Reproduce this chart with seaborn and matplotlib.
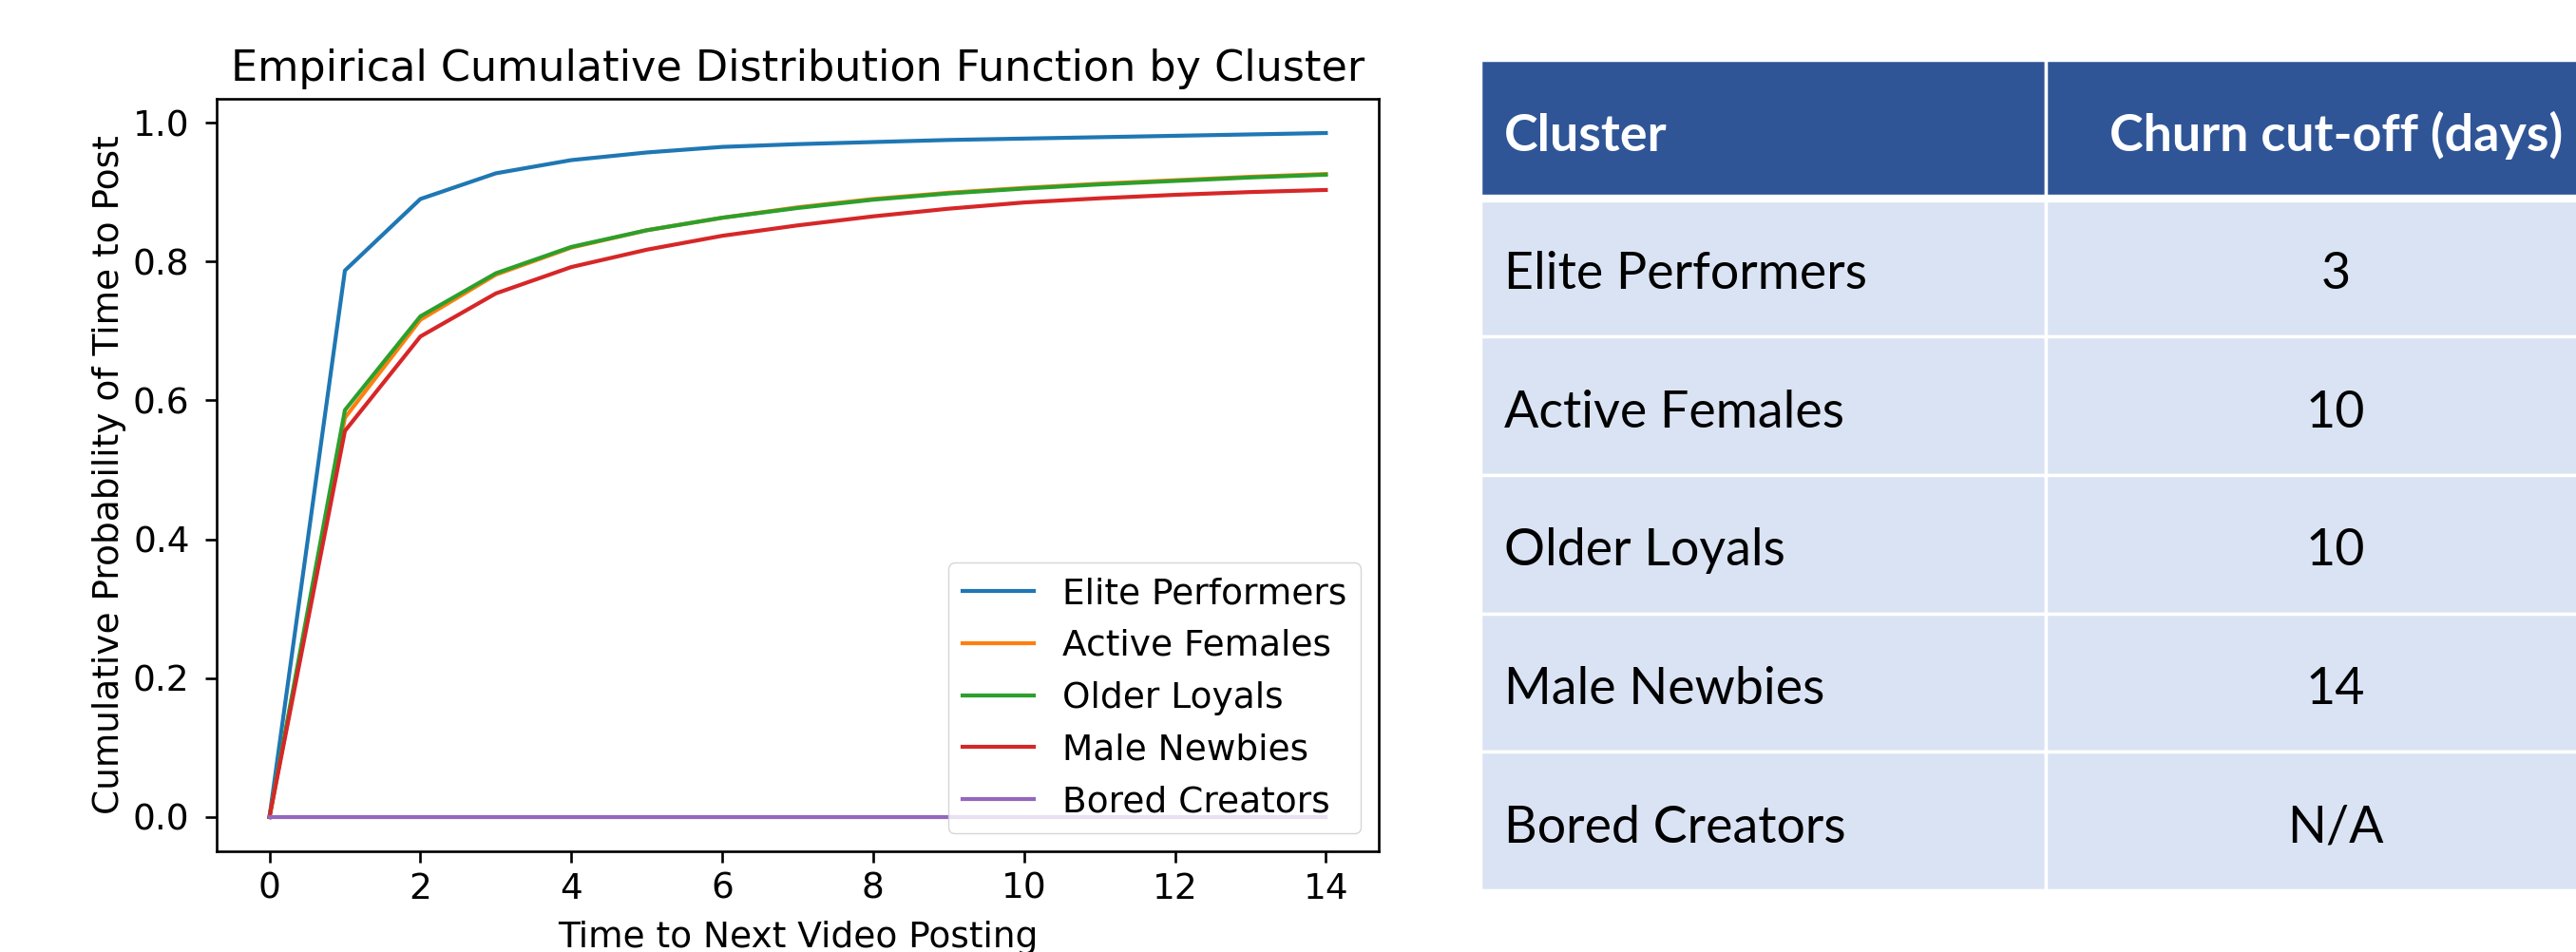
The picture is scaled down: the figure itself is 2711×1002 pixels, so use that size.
import numpy as np
import pandas as pd
import matplotlib
matplotlib.use("Agg")
import matplotlib.pyplot as plt
import seaborn as sns

# ECDF values
days = list(range(15))
clusters = ["Elite Performers", "Active Females", "Older Loyals", "Male Newbies", "Bored Creators"]
elite = [0.0, 0.787, 0.890, 0.927, 0.946, 0.957, 0.965, 0.969, 0.972, 0.975, 0.977, 0.979, 0.981, 0.983, 0.985]
active = [0.0, 0.575, 0.716, 0.781, 0.820, 0.845, 0.863, 0.878, 0.890, 0.899, 0.906, 0.912, 0.917, 0.922, 0.926]
older = [0.0, 0.586, 0.721, 0.783, 0.821, 0.845, 0.863, 0.877, 0.889, 0.898, 0.905, 0.911, 0.916, 0.921, 0.925]
male = [0.0, 0.556, 0.692, 0.754, 0.792, 0.817, 0.837, 0.852, 0.865, 0.876, 0.885, 0.891, 0.896, 0.900, 0.903]
bored = [0.0, 0.0, 0.0, 0.0, 0.0, 0.0, 0.0, 0.0, 0.0, 0.0, 0.0, 0.0, 0.0, 0.0, 0.0]

# table on the right
table_header = ["Cluster", "Churn cut-off (days)"]
cutoffs = ["3", "10", "10", "14", "N/A"]

plt.rcParams.update({
    "font.size": 27,
    "axes.titlesize": 32,
    "axes.linewidth": 1.9,
    "xtick.major.size": 8.5, "ytick.major.size": 8.5,
    "xtick.major.width": 1.9, "ytick.major.width": 1.9,
    "xtick.major.pad": 7, "ytick.major.pad": 12,
    "axes.labelpad": 5, "axes.titlepad": 14,
    "lines.linewidth": 3.0,
})

df = pd.DataFrame({
    "days": days * len(clusters),
    "cdf": elite + active + older + male + bored,
    "cluster": np.repeat(clusters, len(days)),
})
palette = dict(zip(clusters, sns.color_palette("tab10", len(clusters))))

fig = plt.figure(figsize=(27.11, 10.02), dpi=100)
ax = fig.add_axes([0.0841, 0.1058, 0.4511, 0.7904])
sns.lineplot(data=df, x="days", y="cdf", hue="cluster", hue_order=clusters,
             palette=palette, linewidth=3.0, ax=ax)
sns.move_legend(ax, "lower right", title=None)
ax.set_xticks(range(0, 15, 2))
ax.set_title("Empirical Cumulative Distribution Function by Cluster")
ax.set_xlabel("Time to Next Video Posting", labelpad=11)
ax.set_ylabel("Cumulative Probability of Time to Post")

header_color = "#2F5597"
row_color = "#DAE3F3"
tab = fig.add_axes([0.5747, 0.0649, 0.4445, 0.8723])
n_rows = len(clusters) + 1
tab.set_xlim(0, 1)
tab.set_ylim(n_rows, 0)
tab.axis("off")
col_left = [0, 0.494]
col_width = [0.494, 0.506]
row_colors = [header_color] + [row_color] * len(clusters)
for left, width in zip(col_left, col_width):
    tab.barh(np.arange(n_rows) + 0.5, width, left=left, height=1,
             color=row_colors, edgecolor="white", linewidth=2.5)
tab.axhline(1, color="white", lw=6)

tfont = ["Lato", "DejaVu Sans"]
fs = 38.7
tab.text(0.021, 0.5 + 0.16, table_header[0], color="white", fontsize=fs, fontweight="bold",
         ha="left", va="baseline", family=tfont)
tab.text(0.747, 0.5 + 0.16, table_header[1], color="white", fontsize=fs, fontweight="bold",
         ha="center", va="baseline", family=tfont)
for i, (name, cut) in enumerate(zip(clusters, cutoffs)):
    tab.text(0.021, i + 1.5 + 0.155, name, color="black", fontsize=fs,
             ha="left", va="baseline", family=tfont)
    tab.text(0.747, i + 1.5 + 0.155, cut, color="black", fontsize=fs,
             ha="center", va="baseline", family=tfont)

fig.savefig("out.png", dpi=100)
